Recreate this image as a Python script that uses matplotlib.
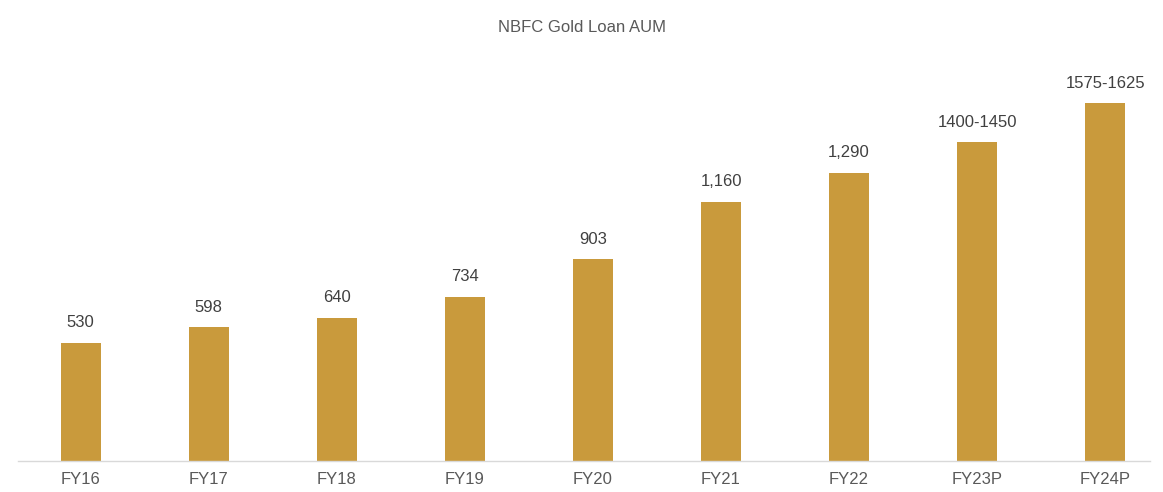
import matplotlib
matplotlib.use("Agg")
import matplotlib.pyplot as plt

categories = ["FY16", "FY17", "FY18", "FY19", "FY20", "FY21", "FY22", "FY23P", "FY24P"]
values = [530, 598, 640, 734, 903, 1160, 1290, 1425, 1600]
labels = ["530", "598", "640", "734", "903", "1,160", "1,290", "1400-1450", "1575-1625"]

plt.rcParams['font.family'] = ['Liberation Sans', 'DejaVu Sans']

W, H = 1163, 492
fig = plt.figure(figsize=(W / 100, H / 100), dpi=100)
left, right = 18 / W, 1150 / W
bottom, top = (H - 461) / H, (H - 60) / H
ax = fig.add_axes([left, bottom, right - left, top - bottom])

x = list(range(len(categories)))
ax.bar(x, values, width=0.31, color="#C99A3C")
ax.set_xlim(-0.49, 8.35)
ax.set_ylim(0, 1794)

for xi, v, lab in zip(x, values, labels):
    ax.annotate(lab, (xi, v), xytext=(0, 9), textcoords="offset points",
                ha="center", va="bottom", fontsize=12, color="#404040")

ax.set_xticks(x)
ax.set_xticklabels(categories, fontsize=12, color="#595959")
ax.tick_params(axis="x", length=0, pad=8)
ax.set_yticks([])
for s in ["top", "right", "left"]:
    ax.spines[s].set_visible(False)
ax.spines["bottom"].set_color("#D9D9D9")
ax.spines["bottom"].set_linewidth(1)

fig.text(0.5, 1 - 28 / H, "NBFC Gold Loan AUM", ha="center", va="center",
         fontsize=12, color="#595959")

fig.savefig("out.png", dpi=100, facecolor="white")
